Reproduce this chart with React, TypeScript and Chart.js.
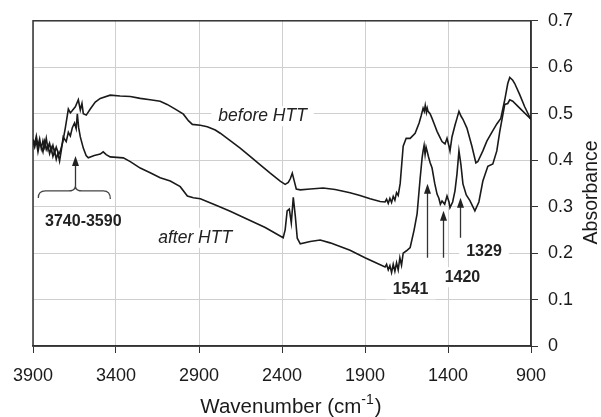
import React, { useEffect, useRef } from "react";
import { Chart, registerables } from "chart.js";

Chart.register(...registerables);

// ---- data (wavenumber cm-1, absorbance) ----
const beforeHTT: [number, number][] = [
  [3900, 0.445], [3890, 0.435], [3880, 0.452], [3870, 0.43], [3860, 0.446], [3850, 0.425],
  [3840, 0.442], [3830, 0.428], [3820, 0.447], [3810, 0.424], [3800, 0.436], [3790, 0.42],
  [3780, 0.432], [3770, 0.416], [3760, 0.428], [3745, 0.412], [3735, 0.42], [3720, 0.44],
  [3705, 0.47], [3687, 0.51], [3675, 0.502], [3663, 0.507], [3645, 0.515], [3627, 0.53],
  [3615, 0.508], [3605, 0.522], [3597, 0.5], [3579, 0.497], [3555, 0.51], [3525, 0.525],
  [3495, 0.533], [3435, 0.54], [3375, 0.538], [3314, 0.537], [3254, 0.533], [3194, 0.53],
  [3134, 0.527], [3092, 0.52], [3043, 0.51], [2994, 0.499], [2964, 0.485], [2940, 0.477],
  [2892, 0.475], [2850, 0.472], [2802, 0.465], [2772, 0.458], [2712, 0.442], [2652, 0.426],
  [2592, 0.408], [2531, 0.39], [2471, 0.372], [2411, 0.355], [2381, 0.348], [2362, 0.352],
  [2350, 0.36], [2338, 0.372], [2326, 0.355], [2314, 0.338], [2290, 0.336], [2230, 0.338],
  [2152, 0.34], [2080, 0.337], [1990, 0.33], [1930, 0.324], [1869, 0.317], [1809, 0.311],
  [1779, 0.31], [1770, 0.316], [1760, 0.307], [1750, 0.318], [1740, 0.309], [1730, 0.322],
  [1720, 0.314], [1710, 0.33], [1700, 0.324], [1688, 0.35], [1670, 0.43], [1652, 0.447],
  [1628, 0.447], [1598, 0.458], [1574, 0.48], [1562, 0.495], [1550, 0.512], [1543, 0.505],
  [1537, 0.518], [1530, 0.503], [1525, 0.512], [1520, 0.505], [1508, 0.5], [1496, 0.49],
  [1480, 0.475], [1466, 0.462], [1450, 0.45], [1436, 0.44], [1418, 0.435], [1406, 0.447],
  [1394, 0.43], [1388, 0.42], [1376, 0.45], [1358, 0.475], [1346, 0.49], [1334, 0.505],
  [1322, 0.495], [1310, 0.488], [1286, 0.469], [1256, 0.43], [1232, 0.394], [1220, 0.397],
  [1190, 0.42], [1166, 0.441], [1136, 0.46], [1106, 0.478], [1082, 0.49], [1058, 0.53],
  [1040, 0.565], [1028, 0.578], [1010, 0.572], [998, 0.565], [968, 0.541], [938, 0.515],
  [900, 0.487],
];

const afterHTT: [number, number][] = [
  [3900, 0.44], [3890, 0.428], [3880, 0.442], [3870, 0.418], [3860, 0.436], [3850, 0.43],
  [3840, 0.418], [3830, 0.44], [3820, 0.423], [3810, 0.432], [3800, 0.414], [3790, 0.426],
  [3780, 0.408], [3770, 0.42], [3760, 0.402], [3750, 0.415], [3740, 0.398], [3730, 0.42],
  [3718, 0.45], [3700, 0.44], [3687, 0.46], [3675, 0.452], [3663, 0.47], [3650, 0.48],
  [3640, 0.468], [3633, 0.5], [3625, 0.47], [3615, 0.45], [3597, 0.426], [3580, 0.41],
  [3567, 0.405], [3531, 0.41], [3495, 0.413], [3477, 0.418], [3459, 0.412], [3435, 0.407],
  [3356, 0.405], [3314, 0.397], [3254, 0.383], [3194, 0.373], [3134, 0.362], [3073, 0.355],
  [3013, 0.343], [2970, 0.323], [2934, 0.319], [2892, 0.317], [2790, 0.302], [2712, 0.29],
  [2592, 0.27], [2501, 0.255], [2393, 0.233], [2381, 0.25], [2369, 0.291], [2356, 0.295],
  [2344, 0.265], [2332, 0.32], [2320, 0.28], [2308, 0.232], [2290, 0.22], [2230, 0.225],
  [2170, 0.228], [2110, 0.222], [1990, 0.206], [1900, 0.19], [1828, 0.178], [1779, 0.17],
  [1770, 0.176], [1760, 0.164], [1750, 0.173], [1740, 0.158], [1730, 0.176], [1720, 0.161],
  [1710, 0.179], [1700, 0.164], [1690, 0.19], [1680, 0.174], [1670, 0.2], [1650, 0.205],
  [1628, 0.212], [1604, 0.25], [1586, 0.285], [1568, 0.36], [1556, 0.405], [1550, 0.42],
  [1544, 0.432], [1538, 0.412], [1532, 0.428], [1526, 0.42], [1518, 0.408], [1508, 0.395],
  [1496, 0.383], [1480, 0.35], [1466, 0.327], [1455, 0.318], [1446, 0.305], [1436, 0.312],
  [1420, 0.305], [1406, 0.323], [1394, 0.31], [1388, 0.298], [1372, 0.31], [1358, 0.334],
  [1346, 0.37], [1334, 0.42], [1322, 0.39], [1310, 0.349], [1290, 0.325], [1268, 0.313],
  [1238, 0.291], [1214, 0.31], [1190, 0.355], [1160, 0.387], [1130, 0.392], [1106, 0.42],
  [1088, 0.462], [1058, 0.52], [1040, 0.522], [1028, 0.53], [1010, 0.527], [968, 0.512],
  [900, 0.488],
];

const seriesNames = ["before HTT", "after HTT"];
const rangeLabel = "3740-3590";
const peakLabels = ["1541", "1420", "1329"];
const xTickValues = [3900, 3400, 2900, 2400, 1900, 1400, 900];
const yTickValues = [0, 0.1, 0.2, 0.3, 0.4, 0.5, 0.6, 0.7];
const xTitle = "Wavenumber (cm";
const xTitleSup = "-1";
const yTitle = "Absorbance";

const FONT = "'Liberation Sans', Arial, Helvetica, sans-serif";
const INK = "#1a1a1a";

// annotation placement (data coordinates)
const notes = [
  { text: seriesNames[0], wn: 2517, a: 0.4945, font: `italic 17.5px ${FONT}`, box: true },
  { text: seriesNames[1], wn: 2923, a: 0.233, font: `italic 17.5px ${FONT}`, box: true },
  { text: rangeLabel, wn: 3597, a: 0.268, font: `bold 16px ${FONT}`, box: false },
  { text: peakLabels[0], wn: 1626, a: 0.122, font: `bold 16px ${FONT}`, box: true },
  { text: peakLabels[1], wn: 1313, a: 0.148, font: `bold 16px ${FONT}`, box: true },
  { text: peakLabels[2], wn: 1183, a: 0.203, font: `bold 16px ${FONT}`, box: true },
];
const arrows = [
  { wn: 3645, from: 0.338, to: 0.409 },
  { wn: 1526, from: 0.19, to: 0.349 },
  { wn: 1430, from: 0.19, to: 0.291 },
  { wn: 1328, from: 0.233, to: 0.319 },
];
const brace = { wn: 3645, a: 0.338, left: 37, right: 35 };

const decorPlugin = {
  id: "decor",
  beforeDatasetsDraw(chart: any) {
    const { ctx, chartArea: area, scales } = chart;
    ctx.save();
    ctx.fillStyle = "#ffffff";
    for (const n of notes) {
      if (!n.box) continue;
      ctx.font = n.font;
      const w = ctx.measureText(n.text).width;
      const cx = scales.x.getPixelForValue(n.wn);
      const cy = scales.y.getPixelForValue(n.a);
      ctx.fillRect(cx - w / 2 - 7, cy - 10, w + 14, 20);
    }
    ctx.strokeStyle = "#333";
    ctx.lineWidth = 1.5;
    ctx.strokeRect(area.left, area.top, area.right - area.left, area.bottom - area.top);
    ctx.restore();
  },
  afterDatasetsDraw(chart: any) {
    const { ctx, scales } = chart;
    const sx = scales.x, sy = scales.y;
    ctx.save();
    ctx.fillStyle = "#222";
    ctx.textAlign = "center";
    ctx.textBaseline = "middle";
    for (const n of notes) {
      ctx.font = n.font;
      ctx.fillText(n.text, sx.getPixelForValue(n.wn), sy.getPixelForValue(n.a));
    }
    ctx.strokeStyle = "#333";
    ctx.fillStyle = "#222";
    ctx.lineWidth = 1.3;
    for (const ar of arrows) {
      const x = Math.round(sx.getPixelForValue(ar.wn)) + 0.5;
      const y0 = sy.getPixelForValue(ar.from);
      const y1 = sy.getPixelForValue(ar.to);
      ctx.beginPath();
      ctx.moveTo(x, y0);
      ctx.lineTo(x, y1 + 6);
      ctx.stroke();
      ctx.beginPath();
      ctx.moveTo(x, y1);
      ctx.lineTo(x - 3.5, y1 + 10);
      ctx.lineTo(x + 3.5, y1 + 10);
      ctx.closePath();
      ctx.fill();
    }
    // curly brace
    const cx = sx.getPixelForValue(brace.wn);
    const by = sy.getPixelForValue(brace.a) + 1;
    ctx.lineWidth = 1.3;
    ctx.strokeStyle = "#444";
    ctx.beginPath();
    ctx.moveTo(cx - brace.left, by + 8);
    ctx.quadraticCurveTo(cx - brace.left, by + 1, cx - brace.left + 7, by + 1);
    ctx.lineTo(cx - 7, by + 1);
    ctx.quadraticCurveTo(cx - 1, by + 1, cx, by - 3);
    ctx.quadraticCurveTo(cx + 1, by + 1, cx + 7, by + 1);
    ctx.lineTo(cx + brace.right - 7, by + 1);
    ctx.quadraticCurveTo(cx + brace.right, by + 1, cx + brace.right, by + 9);
    ctx.stroke();
    ctx.restore();
  },
  afterDraw(chart: any) {
    const { ctx, chartArea: area } = chart;
    ctx.save();
    ctx.fillStyle = INK;
    // x title with superscript
    const mainFont = `20.5px ${FONT}`;
    const supFont = `14px ${FONT}`;
    ctx.font = mainFont;
    const w1 = ctx.measureText(xTitle).width;
    const w3 = ctx.measureText(")").width;
    ctx.font = supFont;
    const w2 = ctx.measureText(xTitleSup).width;
    const total = w1 + w2 + w3 + 1;
    const cxT = (area.left + area.right) / 2 + 9;
    let x = cxT - total / 2;
    const base = 413;
    ctx.textBaseline = "alphabetic";
    ctx.textAlign = "left";
    ctx.font = mainFont;
    ctx.fillText(xTitle, x, base);
    x += w1;
    ctx.font = supFont;
    ctx.fillText(xTitleSup, x, base - 9);
    x += w2 + 1;
    ctx.font = mainFont;
    ctx.fillText(")", x, base);
    // y title rotated, reading bottom to top
    ctx.translate(592, (area.top + area.bottom) / 2 + 9);
    ctx.rotate(-Math.PI / 2);
    ctx.textAlign = "center";
    ctx.textBaseline = "middle";
    ctx.font = `19.5px ${FONT}`;
    ctx.fillText(yTitle, 0, 0);
    ctx.restore();
  },
};

export default function App() {
  const canvasRef = useRef<HTMLCanvasElement | null>(null);

  useEffect(() => {
    const canvas = canvasRef.current;
    if (!canvas) return;
    const chart = new Chart(canvas, {
      type: "line",
      data: {
        datasets: [
          {
            label: seriesNames[0],
            data: beforeHTT.map(([x, y]) => ({ x, y })),
            borderColor: INK,
            borderWidth: 1.6,
            pointRadius: 0,
            tension: 0,
            fill: false,
          },
          {
            label: seriesNames[1],
            data: afterHTT.map(([x, y]) => ({ x, y })),
            borderColor: INK,
            borderWidth: 1.6,
            pointRadius: 0,
            tension: 0,
            fill: false,
          },
        ],
      },
      options: {
        responsive: false,
        animation: false,
        devicePixelRatio: 1,
        layout: { padding: { left: 33, top: 19, right: 0, bottom: 0 } },
        plugins: {
          legend: { display: false },
          tooltip: { enabled: false },
          title: { display: false },
        },
        scales: {
          x: {
            type: "linear",
            reverse: true,
            min: 900,
            max: 3900,
            afterBuildTicks: (scale: any) => {
              scale.ticks = xTickValues.map((v) => ({ value: v }));
            },
            afterFit: (scale: any) => {
              scale.height = 71;
            },
            grid: {
              color: "#cfcfcf",
              lineWidth: 1,
              drawTicks: true,
              tickLength: 7,
              tickColor: "#333",
            },
            border: { display: true, color: "#333", width: 1.5 },
            ticks: {
              color: INK,
              font: { family: FONT, size: 18 },
              padding: 12,
              maxRotation: 0,
              autoSkip: false,
              callback: (v: any) => String(v),
            },
          },
          y: {
            type: "linear",
            position: "right",
            min: 0,
            max: 0.7,
            afterBuildTicks: (scale: any) => {
              scale.ticks = yTickValues.map((v) => ({ value: v }));
            },
            afterFit: (scale: any) => {
              scale.width = 70;
            },
            grid: {
              color: "#cfcfcf",
              lineWidth: 1,
              drawTicks: true,
              tickLength: 7,
              tickColor: "#333",
            },
            border: { display: true, color: "#333", width: 1.5 },
            ticks: {
              color: INK,
              font: { family: FONT, size: 18 },
              padding: 10,
              autoSkip: false,
              callback: (v: any) => String(Math.round(Number(v) * 10) / 10),
            },
          },
        },
      },
      plugins: [decorPlugin],
    });
    return () => chart.destroy();
  }, []);

  return (
    <div style={{ position: "fixed", left: 0, top: 0, width: 601, height: 417, background: "#fff" }}>
      <canvas ref={canvasRef} width={601} height={417} style={{ display: "block" }} />
    </div>
  );
}
